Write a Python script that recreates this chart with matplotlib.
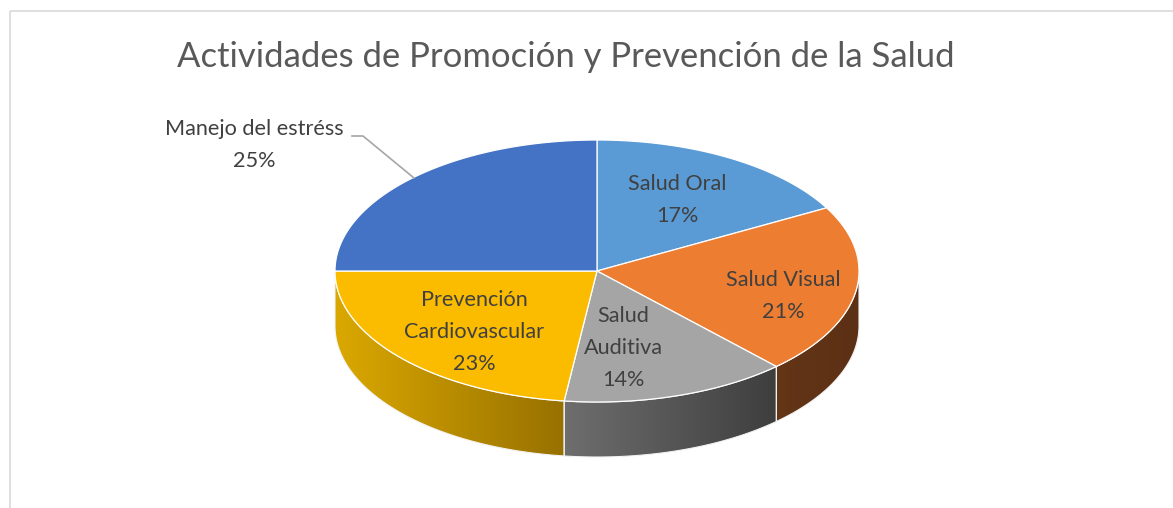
import numpy as np
import matplotlib
matplotlib.use('Agg')
import matplotlib.pyplot as plt
from matplotlib.patches import Polygon, Rectangle
from matplotlib.colors import LinearSegmentedColormap

title = 'Actividades de Promoción y Prevención de la Salud'
labels = ['Salud Oral', 'Salud Visual', 'Salud\nAuditiva', 'Prevención\nCardiovascular', 'Manejo del estréss']
values = [17, 21, 14, 23, 25]
top_colors = ['#5B9BD5', '#ED7D31', '#A5A5A5', '#FBBC00', '#4472C4']
# side wall gradients (left colour, right colour)
side_colors = [('#3A6A96', '#3A6A96'), ('#643517', '#5C3015'), ('#6E6E6E', '#3E3E3E'),
               ('#DBA800', '#977100'), ('#2F4F8A', '#2F4F8A')]
label_pos = [(677, 200), (783, 296), (623, 348), (474, 332), (254, 145)]

W, H = 1173, 508
cx, cy, rx, ry, depth = 597, 271, 262, 131, 55

fig = plt.figure(figsize=(W / 100, H / 100), dpi=100)
ax = fig.add_axes([0, 0, 1, 1])
ax.set_xlim(0, W)
ax.set_ylim(H, 0)
ax.axis('off')

# chart frame
ax.add_patch(Rectangle((10, 11), W, H, fill=False, edgecolor='#D9D9D9', lw=1.2))


def arc(a0, a1, dy=0, n=200):
    t = np.radians(np.linspace(a0, a1, n))
    return np.column_stack([cx + rx * np.cos(t), cy - ry * np.sin(t) + dy])


total = sum(values)
bounds = [90.0]
for v in values:
    bounds.append(bounds[-1] - 360.0 * v / total)

# side walls (only the front half, angles between 0 and -180)
for i in range(len(values)):
    a0, a1 = bounds[i], bounds[i + 1]
    s0, s1 = min(a0, 0), max(a1, -180)
    if s0 <= s1:
        continue
    top = arc(s0, s1)
    bot = arc(s1, s0, dy=depth)
    poly = Polygon(np.vstack([top, bot]), closed=True, facecolor='none', edgecolor='none')
    ax.add_patch(poly)
    xs = np.concatenate([top[:, 0], bot[:, 0]])
    cmap = LinearSegmentedColormap.from_list('w%d' % i, list(side_colors[i]))
    grad = np.linspace(0, 1, 256).reshape(1, -1)
    im = ax.imshow(grad, cmap=cmap, aspect='auto',
                   extent=[xs.min(), xs.max(), cy + ry + depth + 2, cy - 5], zorder=1)
    im.set_clip_path(poly)
    ax.add_patch(Polygon(np.vstack([top, bot]), closed=True, facecolor='none',
                         edgecolor='#F2F2F2', lw=0.8, zorder=2))

# top faces
for i in range(len(values)):
    pts = np.vstack([[cx, cy], arc(bounds[i], bounds[i + 1])])
    ax.add_patch(Polygon(pts, closed=True, facecolor=top_colors[i],
                         edgecolor='#FFFFFF', lw=0.9, zorder=3))

# labels
for i, (lab, v) in enumerate(zip(labels, values)):
    x, y = label_pos[i]
    ax.text(x, y, '%s\n%d%%' % (lab, v), ha='center', va='center', fontsize=15.6,
            color='#404040', family='Lato', linespacing=1.72, zorder=5)

# leader line for the outside label
ax.plot([352, 363, 414], [136, 136, 178], color='#A6A6A6', lw=1.2, zorder=4)

ax.text(566, 57, title, ha='center', va='center', fontsize=24.9, color='#595959', family='Lato')

fig.savefig('out.png', dpi=100)
